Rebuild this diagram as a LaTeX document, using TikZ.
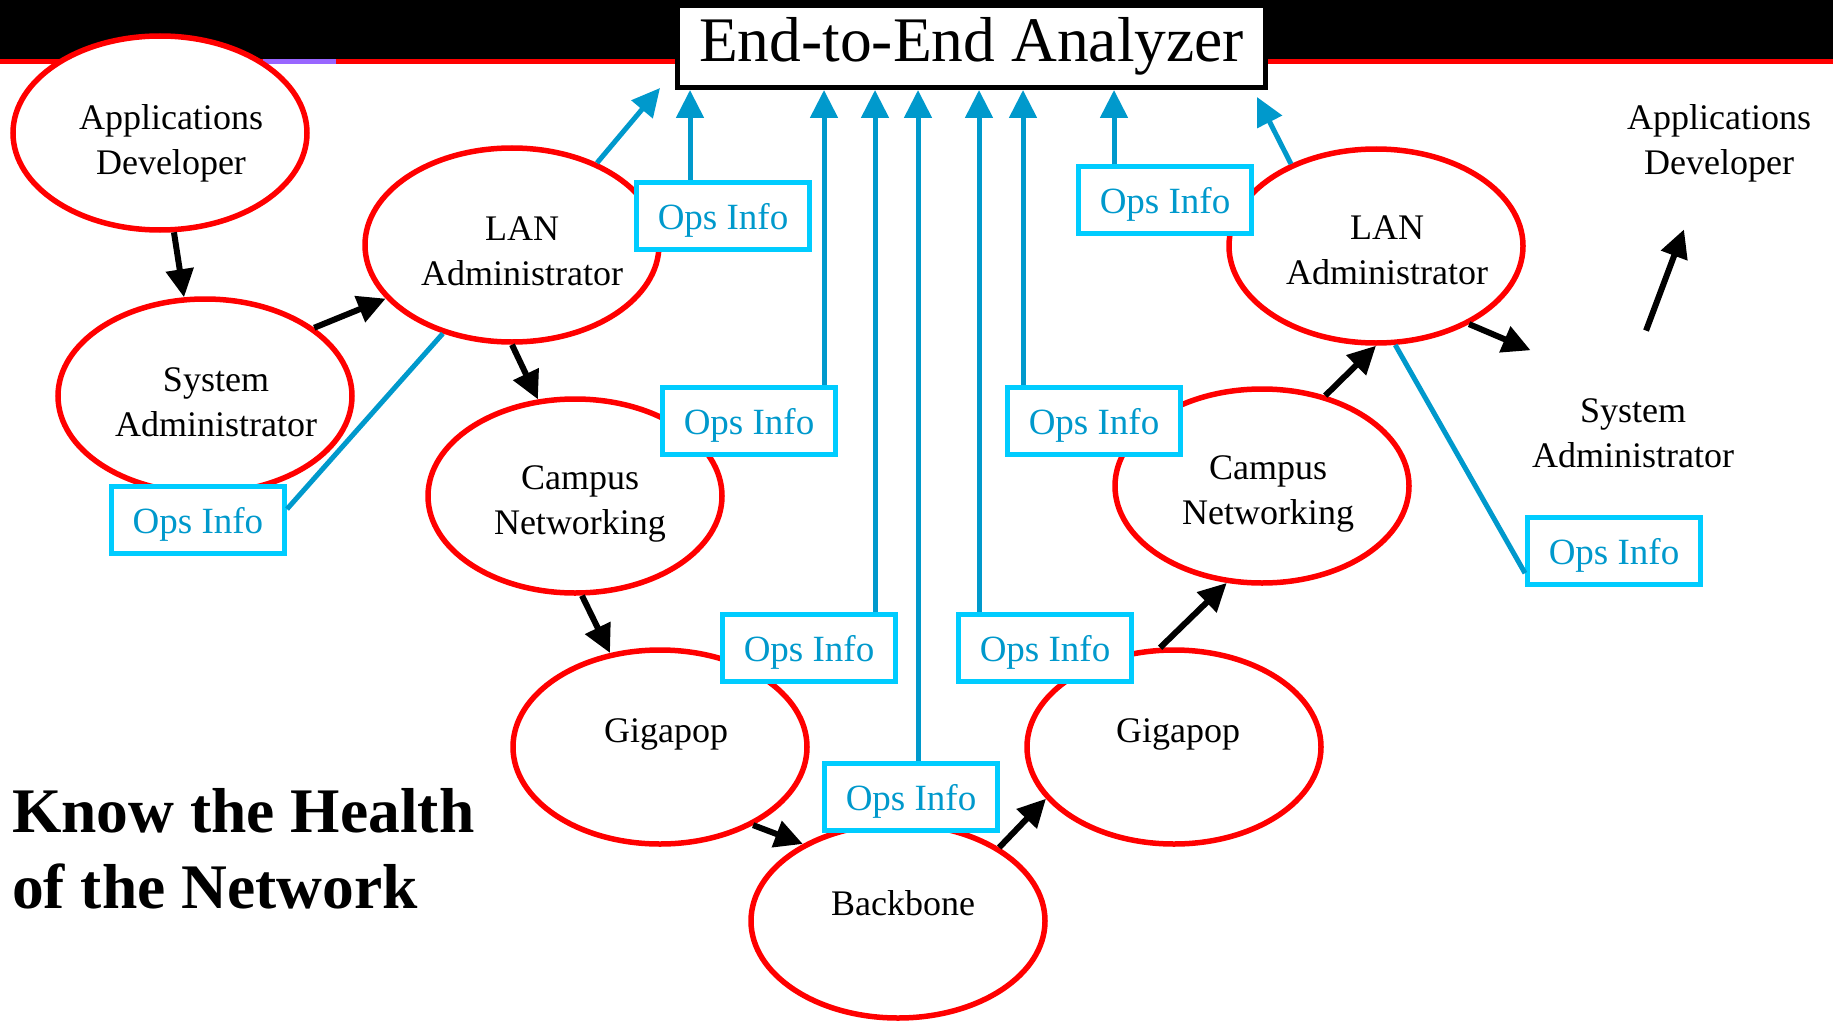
\documentclass[tikz,border=0pt]{standalone}
\usepackage{fontspec}
\setmainfont{Liberation Serif}
\usetikzlibrary{arrows.meta, shapes.geometric}
\definecolor{ellred}{RGB}{255,0,0}
\definecolor{opsframe}{RGB}{0,204,255}
\definecolor{opsblue}{RGB}{0,153,204}
\definecolor{barpurple}{RGB}{153,102,255}

\begin{document}
\begin{tikzpicture}[x=1pt, y=-1pt,
		ell/.style={ellipse, draw=ellred, line width=5.5pt, fill=white, minimum width=294pt, minimum height=194pt, inner sep=0pt},
		ghost/.style={ellipse, minimum width=295pt, minimum height=195pt, inner sep=0pt},
		txt/.style={align=center, inner sep=0pt, font=\fontsize{36}{45}\selectfont},
		ops/.style={draw=opsframe, line width=5pt, fill=white, minimum width=173pt, minimum height=67pt, inner sep=0pt, text depth=0pt, text=opsblue, font=\fontsize{37}{44}\selectfont},
		flow/.style={-{Triangle[length=28pt, width=27pt]}, line width=6pt},
		feed/.style={-{Triangle[length=28pt, width=27pt]}, color=opsblue, line width=5pt},
		tie/.style={color=opsblue, line width=5pt}]
		\useasboundingbox (0,0) rectangle (1833,1022);

		% top bar
		\fill (0,0) rectangle (1833,59);
		\fill[ellred] (0,59) rectangle (1833,64);
		\fill[barpurple] (263,59) rectangle (336,64);

		\node [ell] (appL) at (160,133) {};
		\node [ell] (sysL) at (205,396) {};
		\node [ell] (lanL) at (512,245) {};
		\node [ell] (campL) at (575,496) {};
		\node [ell] (gigaL) at (660,747) {};
		\node [ell] (back) at (898,921) {};
		\node [ell] (gigaR) at (1174,747) {};
		\node [ell] (campR) at (1262,486) {};
		\node [ell] (lanR) at (1376,246) {};
		\node [ghost] (sysR) at (1622,427) {};
		\node [ghost] (appR) at (1708,133) {};

		\node [txt] (appLt) at ([shift={(11,10)}]appL) {Applications\\Developer};
		\node [txt] (sysLt) at ([shift={(11,6)}]sysL) {System\\Administrator};
		\node [txt] (lanLt) at ([shift={(10,6)}]lanL) {LAN\\Administrator};
		\node [txt] (campLt) at ([shift={(5,8)}]campL) {Campus\\Networking};
		\node [txt] (gigaLt) at ([shift={(6,-13)}]gigaL) {Gigapop};
		\node [txt] (backt) at ([shift={(5,-18)}]back) {Backbone};
		\node [txt] (gigaRt) at ([shift={(4,-13)}]gigaR) {Gigapop};
		\node [txt] (campRt) at ([shift={(6,8)}]campR) {Campus\\Networking};
		\node [txt] (lanRt) at ([shift={(11,4)}]lanR) {LAN\\Administrator};
		\node [txt] (sysRt) at ([shift={(11,6)}]sysR) {System\\Administrator};
		\node [txt] (appRt) at ([shift={(11,10)}]appR) {Applications\\Developer};

		\node [anchor=north west, align=left, inner sep=0pt, font=\bfseries\fontsize{63.5}{76}\selectfont] (motto) at (12,788) {Know the Health\\of the Network};

		\node [draw, line width=5pt, fill=white, minimum width=588pt, minimum height=82pt, inner sep=0pt, font=\fontsize{63.5}{70}\selectfont] (title) at (971.5,46.5) {End-to-End Analyzer};

		\coordinate (tA) at (690,90);
		\coordinate (tC) at (824,90);
		\coordinate (tD) at (875,90);
		\coordinate (tE) at (918,90);
		\coordinate (tF) at (979,90);
		\coordinate (tG) at (1023,90);
		\coordinate (tH) at (1114,90);
		\coordinate (tL) at (660,88);
		\coordinate (tR) at (1257,97);

		\path[flow] (appL.278) edge (sysL.102);
		\path[flow] (sysL.32) edge (lanL.203);
		\path[flow] (lanL.270) edge (campL.111);
		\path[flow] (campL.274) edge (gigaL.118);
		\path[flow] (gigaL.320) edge (back.141);
		\path[flow] (back.36) edge (gigaR.202);
		\path[flow] (gigaR.98) edge (campR.250);
		\path[flow] (campR.55) edge (lanR.270);
		\path[flow] (lanR.320) edge (sysR.140);
		\path[flow] (sysR.76) edge (appR.256);

		\node [ops] (opsA) at (723,216) {Ops Info};
		\node [ops] (opsB) at (198,520) {Ops Info};
		\node [ops] (opsC) at (749,421) {Ops Info};
		\node [ops] (opsD) at (809,648) {Ops Info};
		\node [ops] (opsE) at (911,797) {Ops Info};
		\node [ops] (opsF) at (1045,648) {Ops Info};
		\node [ops] (opsG) at (1094,421) {Ops Info};
		\node [ops] (opsH) at (1165,200) {Ops Info};
		\node [ops] (opsI) at (1614,551) {Ops Info};

		\path[feed] (lanL.44) edge (tL);
		\path[feed] (lanR.136) edge (tR);
		\path[feed] (opsA.north -| tA) edge (tA);
		\path[feed] (opsC.north -| tC) edge (tC);
		\path[feed] (opsD.north -| tD) edge (tD);
		\path[feed] (opsE.north -| tE) edge (tE);
		\path[feed] (opsF.north -| tF) edge (tF);
		\path[feed] (opsG.north -| tG) edge (tG);
		\path[feed] (opsH.north -| tH) edge (tH);
		\path[tie] (opsB.7) edge (lanL.232);
		\path[tie] (opsI.194) edge (lanR.281);
	\end{tikzpicture}
\end{document}
